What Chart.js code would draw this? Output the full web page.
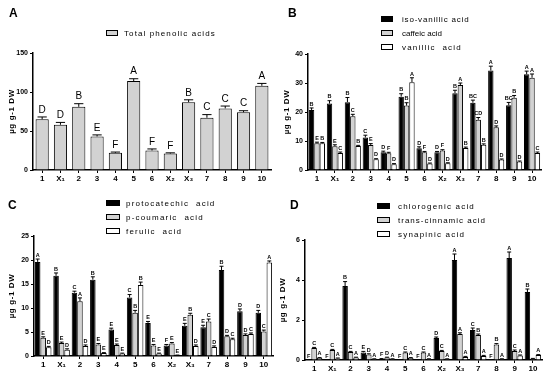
<!DOCTYPE html>
<html>
<head>
<meta charset="utf-8">
<script src="https://cdn.jsdelivr.net/npm/chart.js@4/dist/chart.umd.min.js"></script>
<style>
  html, body { margin: 0; padding: 0; background: #fff; }
  #wrap { position: relative; width: 550px; height: 381px; overflow: hidden; }
  canvas { position: absolute; }
</style>
</head>
<body>
<div id="wrap">
  <canvas id="cA" width="275" height="190" style="left:0;top:0"></canvas>
  <canvas id="cB" width="275" height="190" style="left:275px;top:0"></canvas>
  <canvas id="cC" width="275" height="191" style="left:0;top:190px"></canvas>
  <canvas id="cD" width="275" height="191" style="left:275px;top:190px"></canvas>
</div>
<script>
// ── DATA ────────────────────────────────────────
const categories = ['1','X₁','2','3','4','5','6','X₂','X₃','7','8','9','10'];

// A
const totalPhenolic    = [65, 58, 81, 43, 22, 114, 25, 21, 87, 67, 79, 74, 108];
const totalPhenolicErr = [3, 3, 4, 2, 1, 3, 2, 1, 3, 4, 3, 2, 3];
const totalPhenolicLet = ['D','D','B','E','F','A','F','F','B','C','C','C','A'];

// B
const isoVanillic    = [20.7, 22.9, 23.4, 11.2, 6.1, 25.3, 7.5, 6.1, 26.5, 23.2, 34.3, 22.3, 33.0];
const isoVanillicErr = [0.7, 1.0, 1.6, 0.8, 0.4, 1.0, 0.5, 0.3, 1.0, 0.9, 1.5, 1.0, 1.1];
const isoVanillicLet = ['B','B','B','C','D','B','D','D','B','BC','A','BC','A'];
const caffeic        = [9.2, 8.2, 18.5, 8.6, 5.8, 22.2, 6.1, 6.7, 29.3, 17.3, 14.7, 24.9, 31.8];
const caffeicErr     = [0.4, 0.5, 0.7, 0.5, 0.3, 1.0, 0.3, 0.3, 0.7, 0.8, 0.5, 0.8, 1.3];
const caffeicLet     = ['E','E','C','E','F','B','F','F','A','CD','D','B','A'];
const vanillic       = [9.2, 5.9, 8.3, 3.7, 2.0, 30.3, 2.2, 2.3, 7.6, 8.7, 3.6, 2.9, 5.9];
const vanillicErr    = [0.3, 0.3, 0.2, 0.2, 0.2, 1.5, 0.2, 0.2, 0.3, 0.3, 0.2, 0.2, 0.3];
const vanillicLet    = ['B','C','B','D','D','A','D','D','B','B','D','D','C'];

// C
const protocatechic    = [19.6, 16.7, 13.2, 15.9, 5.5, 12.2, 6.9, 2.2, 6.3, 6.0, 17.9, 9.3, 9.0];
const protocatechicErr = [0.6, 0.6, 0.3, 0.6, 0.3, 0.6, 0.3, 0.2, 0.5, 0.4, 0.8, 0.5, 0.5];
const protocatechicLet = ['A','B','C','B','E','C','E','F','E','E','B','D','D'];
const pCoumaric        = [3.8, 2.7, 11.4, 2.4, 2.3, 9.0, 2.2, 2.6, 8.6, 7.2, 4.1, 4.4, 5.1];
const pCoumaricErr     = [0.2, 0.2, 0.7, 0.2, 0.2, 0.5, 0.2, 0.2, 0.3, 0.5, 0.2, 0.2, 0.3];
const pCoumaricLet     = ['E','E','A','E','E','B','E','E','B','C','D','D','C'];
const ferulic          = [1.8, 1.3, 2.1, 0.6, 0.5, 14.8, 0.5, 0.1, 2.1, 1.9, 3.5, 4.6, 19.5];
const ferulicErr       = [0.2, 0.2, 0.2, 0.1, 0.1, 0.6, 0.1, 0.1, 0.2, 0.2, 0.2, 0.2, 0.3];
const ferulicLet       = ['D','D','D','E','E','B','E','E','D','D','C','C','A'];

// D
const chlorogenic      = [0, 0, 3.7, 0.38, 0.05, 0, 0, 1.1, 5.0, 1.5, 0, 5.1, 3.4];
const chlorogenicErr   = [0, 0, 0.22, 0.05, 0.02, 0, 0, 0.05, 0.3, 0.1, 0, 0.3, 0.15];
const chlorogenicLet   = ['F','F','B','E','F','F','F','D','A','C','F','A','B'];
const transCinnamic    = [0.6, 0.5, 0.4, 0.28, 0.12, 0.37, 0.37, 0.45, 1.3, 1.25, 0.78, 0.45, 0.06];
const transCinnamicErr = [0.03, 0.03, 0.03, 0.03, 0.02, 0.03, 0.03, 0.03, 0.06, 0.05, 0.04, 0.05, 0.02];
const transCinnamicLet = ['C','C','C','D','D','C','C','C','A','B','B','C',''];
const synapinic        = [0.1, 0.08, 0.12, 0.05, 0.05, 0.1, 0.05, 0.05, 0.15, 0.2, 0.05, 0.22, 0.25];
const synapinicErr     = [0.02, 0.02, 0.02, 0.01, 0.01, 0.02, 0.01, 0.01, 0.03, 0.03, 0.01, 0.03, 0.02];
const synapinicLet     = ['A','A','A','A','A','A','A','A','A','A','A','A','A'];

// ── STYLE ───────────────────────────────────────
const FONT = "'Liberation Sans', Arial, sans-serif";
const GRAY = '#d2d2d2';
const Y_TITLE = 'µg g-1 DW';

function ds(label, data, err, letters, color) {
  return {
    label, data, err, letters,
    backgroundColor: color,
    borderColor: '#000',
    borderWidth: 1,
    borderSkipped: 'bottom'
  };
}

// ── PANEL ───────────────────────────────────────
function makePanel(id, cfg) {
  const canvas = document.getElementById(id);
  const H = canvas.height;
  const a = cfg.area;

  const decor = {
    id: 'decor',
    afterDatasetsDraw(chart) {
      const ctx = chart.ctx;
      const ys = chart.scales.y;
      ctx.save();
      chart.data.datasets.forEach((d, i) => {
        const meta = chart.getDatasetMeta(i);
        meta.data.forEach((bar, j) => {
          const v = d.data[j], e = d.err[j];
          const yTop = ys.getPixelForValue(v);
          const yErr = ys.getPixelForValue(v + e);
          if (e > 0 && v > 0) {
            const cw = Math.max(2, bar.width * 0.35);
            ctx.strokeStyle = '#000';
            ctx.lineWidth = 1;
            ctx.beginPath();
            ctx.moveTo(bar.x, yTop);
            ctx.lineTo(bar.x, yErr);
            ctx.moveTo(bar.x - cw, yErr);
            ctx.lineTo(bar.x + cw, yErr);
            ctx.stroke();
          }
          const L = d.letters[j];
          if (L) {
            ctx.fillStyle = '#000';
            ctx.font = cfg.letterFont;
            ctx.textAlign = 'center';
            ctx.textBaseline = 'bottom';
            ctx.fillText(L, bar.x, Math.min(yErr, yTop) - cfg.letterGap);
          }
        });
      });
      ctx.restore();
    },
    afterDraw(chart) {
      const ctx = chart.ctx;
      const ca = chart.chartArea;
      ctx.save();
      // panel letter
      ctx.fillStyle = '#000';
      ctx.font = 'bold 12px ' + FONT;
      ctx.textAlign = 'left';
      ctx.textBaseline = 'alphabetic';
      ctx.fillText(cfg.panel, cfg.panelX, cfg.panelY);
      // y title
      ctx.save();
      ctx.translate(cfg.titleX, (ca.top + ca.bottom) / 2);
      ctx.rotate(-Math.PI / 2);
      ctx.font = 'bold 8px ' + FONT;
      ctx.letterSpacing = '0.6px';
      ctx.textAlign = 'center';
      ctx.textBaseline = 'middle';
      ctx.fillText(Y_TITLE, 0, 0);
      ctx.restore();
      // legend
      const lg = cfg.legend;
      chart.data.datasets.forEach((d, i) => {
        const y = lg.y + i * lg.dy;
        ctx.fillStyle = d.backgroundColor;
        ctx.fillRect(lg.x, y - 3, lg.w, 6);
        ctx.strokeStyle = '#000';
        ctx.lineWidth = 1;
        ctx.strokeRect(lg.x + 0.5, y - 2.5, lg.w - 1, 5);
        ctx.fillStyle = '#000';
        ctx.font = '8px ' + FONT;
        ctx.letterSpacing = (lg.spacing[i] || 0) + 'px';
        ctx.textAlign = 'left';
        ctx.textBaseline = 'middle';
        ctx.fillText(d.label, lg.tx, y + 0.5);
      });
      ctx.restore();
    }
  };

  return new Chart(canvas, {
    type: 'bar',
    data: { labels: categories, datasets: cfg.datasets },
    options: {
      responsive: false,
      animation: false,
      devicePixelRatio: 1,
      layout: { padding: { top: a.top, right: canvas.width - a.right, bottom: 0, left: 0 } },
      datasets: { bar: { barPercentage: cfg.barPct, categoryPercentage: cfg.catPct } },
      plugins: { legend: { display: false }, tooltip: { enabled: false } },
      scales: {
        x: {
          grid: { display: true, drawOnChartArea: false, offset: false, tickLength: 3, color: '#000', lineWidth: 1 },
          border: { color: '#000', width: 1.5 },
          ticks: { color: '#000', font: { family: FONT, size: 8, weight: 'bold' }, padding: 1, maxRotation: 0, autoSkip: false },
          afterFit(s) { s.height = H - a.bottom; s.paddingLeft = 0; s.paddingRight = 0; }
        },
        y: {
          min: 0, max: cfg.yMax,
          ticks: { stepSize: cfg.yStep, color: '#000', font: { family: FONT, size: 7, weight: 'bold' }, padding: 2 },
          grid: { display: true, drawOnChartArea: false, tickLength: 3, color: '#000', lineWidth: 1 },
          border: { color: '#000', width: 1.5 },
          afterFit(s) { s.width = a.left; s.paddingTop = 0; s.paddingBottom = 0; }
        }
      }
    },
    plugins: [decor]
  });
}

// ── A ───────────────────────────────────────────
makePanel('cA', {
  panel: 'A', panelX: 9, panelY: 17, titleX: 12,
  area: { left: 33, right: 271, top: 53, bottom: 170 },
  yMax: 150, yStep: 50, barPct: 0.72, catPct: 1,
  letterFont: '10px ' + FONT, letterGap: 2,
  legend: { x: 106, y: 33, dy: 14, w: 12, tx: 124, spacing: [1.1] },
  datasets: [ds('Total phenolic acids', totalPhenolic, totalPhenolicErr, totalPhenolicLet, GRAY)]
});

// ── B ───────────────────────────────────────────
makePanel('cB', {
  panel: 'B', panelX: 13, panelY: 17, titleX: 12,
  area: { left: 33, right: 266, top: 54, bottom: 170 },
  yMax: 40, yStep: 10, barPct: 1, catPct: 0.9,
  letterFont: 'bold 5.5px ' + FONT, letterGap: 1,
  legend: { x: 106, y: 19, dy: 14, w: 12, tx: 127, spacing: [0.8, 0, 1.2] },
  datasets: [
    ds('iso-vanillic acid', isoVanillic, isoVanillicErr, isoVanillicLet, '#000'),
    ds('caffeic acid', caffeic, caffeicErr, caffeicLet, GRAY),
    ds('vanillic  acid', vanillic, vanillicErr, vanillicLet, '#fff')
  ]
});

// ── C ───────────────────────────────────────────
makePanel('cC', {
  panel: 'C', panelX: 8, panelY: 19, titleX: 12,
  area: { left: 34, right: 273, top: 46, bottom: 166 },
  yMax: 25, yStep: 5, barPct: 1, catPct: 0.9,
  letterFont: 'bold 5.5px ' + FONT, letterGap: 1,
  legend: { x: 106, y: 13, dy: 14, w: 14, tx: 126, spacing: [1.2, 1.2, 1.2] },
  datasets: [
    ds('protocatechic  acid', protocatechic, protocatechicErr, protocatechicLet, '#000'),
    ds('p-coumaric  acid', pCoumaric, pCoumaricErr, pCoumaricLet, GRAY),
    ds('ferulic  acid', ferulic, ferulicErr, ferulicLet, '#fff')
  ]
});

// ── D ───────────────────────────────────────────
makePanel('cD', {
  panel: 'D', panelX: 15, panelY: 19, titleX: 8,
  area: { left: 30, right: 267, top: 50, bottom: 170 },
  yMax: 6, yStep: 2, barPct: 1, catPct: 0.9,
  letterFont: 'bold 5.5px ' + FONT, letterGap: 1,
  legend: { x: 102, y: 16, dy: 14, w: 13, tx: 123, spacing: [1.2, 1.0, 1.2] },
  datasets: [
    ds('chlorogenic acid', chlorogenic, chlorogenicErr, chlorogenicLet, '#000'),
    ds('trans-cinnamic acid', transCinnamic, transCinnamicErr, transCinnamicLet, GRAY),
    ds('synapinic acid', synapinic, synapinicErr, synapinicLet, '#fff')
  ]
});
</script>
</body>
</html>
